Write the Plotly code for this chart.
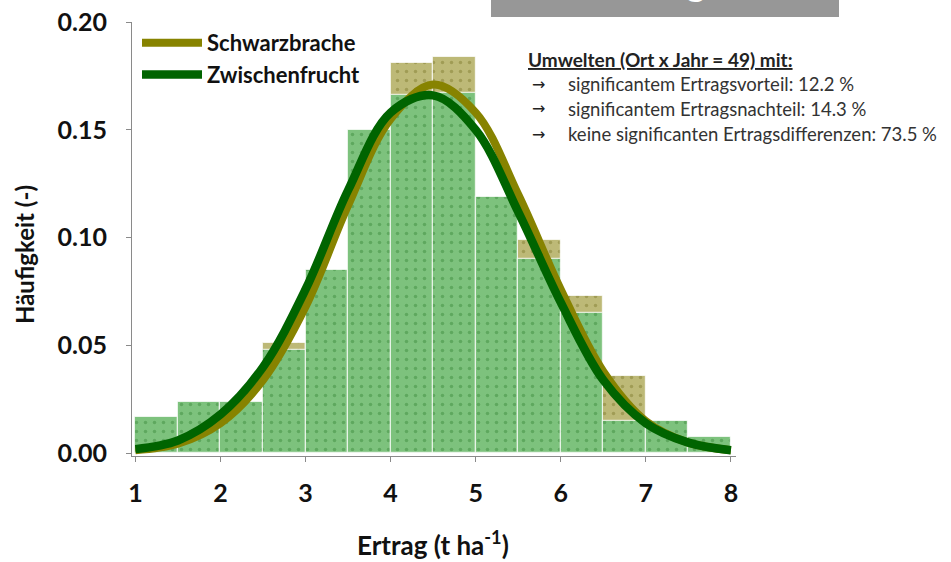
import plotly.graph_objects as go

# Histogram classes (t/ha), bin width 0.5
bin_centers = [1.25, 1.75, 2.25, 2.75, 3.25, 3.75, 4.25, 4.75, 5.25, 5.75, 6.25, 6.75, 7.25, 7.75]
bin_width = 0.5

# Relative frequencies per class
freq_schwarzbrache = [0.008, 0.016, 0.020, 0.051, 0.078, 0.140, 0.181, 0.184, 0.100, 0.099, 0.073, 0.036, 0.010, 0.004]
freq_zwischenfrucht = [0.017, 0.024, 0.024, 0.048, 0.085, 0.150, 0.166, 0.167, 0.119, 0.090, 0.065, 0.015, 0.015, 0.0075]

# Fitted distribution curves
curve_x = [1.0, 1.5, 2.0, 2.5, 3.0, 3.5, 4.0, 4.5, 5.0, 5.5, 6.0, 6.5, 7.0, 7.5, 8.0]
curve_schwarzbrache = [0.0015, 0.0045, 0.014, 0.034, 0.068, 0.115, 0.155, 0.171, 0.158, 0.120, 0.076, 0.038, 0.015, 0.005, 0.0015]
curve_zwischenfrucht = [0.002, 0.006, 0.018, 0.040, 0.076, 0.122, 0.158, 0.166, 0.150, 0.112, 0.070, 0.034, 0.014, 0.005, 0.0015]

x_ticks = [1, 2, 3, 4, 5, 6, 7, 8]
y_ticks = [0.00, 0.05, 0.10, 0.15, 0.20]

x_title = "Ertrag (t ha<sup>-1</sup>)"
y_title = "Häufigkeit (-)"

info_title = "<u><b>Umwelten (Ort x Jahr = 49) mit:</b></u>"
info_lines = [
    "significantem Ertragsvorteil: 12.2 %",
    "significantem Ertragsnachteil: 14.3 %",
    "keine significanten Ertragsdifferenzen: 73.5 %",
]

OLIVE = "#878300"
DARK_GREEN = "#006400"
BAR_GREEN = "#7dc27d"
BAR_TAN = "#bdb977"

W, H = 951, 562
M_L, M_R, M_T, M_B = 132, 215, 22, 106
X_RANGE = [0.96, 8.06]
Y_RANGE = [-0.0012, 0.2]


def px_x(p):
    return (p - M_L) / (W - M_L - M_R)


def px_y(p):
    return (H - M_B - p) / (H - M_T - M_B)


fig = go.Figure()

fig.add_trace(go.Bar(
    x=bin_centers, y=freq_schwarzbrache, width=bin_width,
    marker=dict(color=BAR_TAN,
                line=dict(color="rgba(255,255,255,0.7)", width=1.2),
                pattern=dict(shape=".", fillmode="replace", bgcolor=BAR_TAN,
                             fgcolor="#a09c55", size=9, solidity=0.12)),
    showlegend=False, hoverinfo="skip",
))
fig.add_trace(go.Bar(
    x=bin_centers, y=freq_zwischenfrucht, width=bin_width,
    marker=dict(color=BAR_GREEN,
                line=dict(color="rgba(255,255,255,0.7)", width=1.2),
                pattern=dict(shape=".", fillmode="replace", bgcolor=BAR_GREEN,
                             fgcolor="#5ea85e", size=9, solidity=0.12)),
    showlegend=False, hoverinfo="skip",
))

fig.add_trace(go.Scatter(
    x=curve_x, y=curve_schwarzbrache, mode="lines", name="Schwarzbrache",
    line=dict(color=OLIVE, width=8, shape="spline", smoothing=1.0),
))
fig.add_trace(go.Scatter(
    x=curve_x, y=curve_zwischenfrucht, mode="lines", name="Zwischenfrucht",
    line=dict(color=DARK_GREEN, width=8.5, shape="spline", smoothing=1.0),
))

annotations = [
    dict(xref="paper", yref="paper", x=px_x(526), y=px_y(59), text=info_title,
         xanchor="left", yanchor="middle", showarrow=False,
         font=dict(family="Lato", size=19, color="#222222")),
]
for i, line in enumerate(info_lines):
    yy = px_y(84 + 25 * i)
    annotations.append(dict(xref="paper", yref="paper", x=px_x(530), y=yy, text="→",
                            xanchor="left", yanchor="middle", showarrow=False,
                            font=dict(family="DejaVu Sans", size=16, color="#222222")))
    annotations.append(dict(xref="paper", yref="paper", x=px_x(566), y=yy, text=line,
                            xanchor="left", yanchor="middle", showarrow=False,
                            font=dict(family="Lato", size=18.5, color="#333333")))

# Axis titles
annotations.append(dict(xref="paper", yref="paper", x=px_x(433), y=px_y(543), text=x_title,
                        xanchor="center", yanchor="middle", showarrow=False,
                        font=dict(family="Lato", size=26, color="#111111", weight="bold")))
annotations.append(dict(xref="paper", yref="paper", x=px_x(24), y=px_y(255), text=y_title,
                        textangle=-90, xanchor="center", yanchor="middle", showarrow=False,
                        font=dict(family="Lato", size=24, color="#111111", weight="bold")))

# Header bar text (mostly above the page edge)
annotations.append(dict(xref="paper", yref="paper", x=px_x(708), y=px_y(6), text="Ertrag",
                        xanchor="right", yanchor="bottom", showarrow=False,
                        font=dict(family="Lato", size=40, color="white")))

fig.update_layout(
    width=W, height=H,
    margin=dict(l=M_L, r=M_R, t=M_T, b=M_B, autoexpand=False),
    paper_bgcolor="white", plot_bgcolor="white",
    barmode="overlay", bargap=0,
    font=dict(family="Lato", color="#111111"),
    showlegend=True,
    legend=dict(x=px_x(137), y=1.0, xanchor="left", yanchor="top",
                bgcolor="rgba(0,0,0,0)", itemwidth=60, tracegroupgap=0,
                font=dict(family="Lato", size=22, color="#111111", weight="bold")),
    shapes=[dict(type="rect", xref="paper", yref="paper",
                 x0=px_x(491), x1=px_x(839), y0=px_y(17), y1=px_y(-5),
                 fillcolor="#979797", line=dict(width=0), layer="below")],
    annotations=annotations,
    xaxis=dict(range=X_RANGE, tickvals=x_ticks, ticks="outside", ticklen=5,
               tickcolor="#8a8a8a", showline=True, linecolor="#8a8a8a", linewidth=1,
               showgrid=False, zeroline=False, ticklabelstandoff=10, automargin=False,
               tickfont=dict(family="Lato", size=25, color="#111111", weight="bold")),
    yaxis=dict(range=Y_RANGE, tickvals=y_ticks, tickformat=".2f", ticks="outside",
               ticklen=5, tickcolor="#8a8a8a", showline=True, linecolor="#8a8a8a",
               linewidth=1, showgrid=False, zeroline=False, ticklabelstandoff=14,
               automargin=False,
               tickfont=dict(family="Lato", size=25, color="#111111", weight="bold")),
)

fig.write_html("out.html")
